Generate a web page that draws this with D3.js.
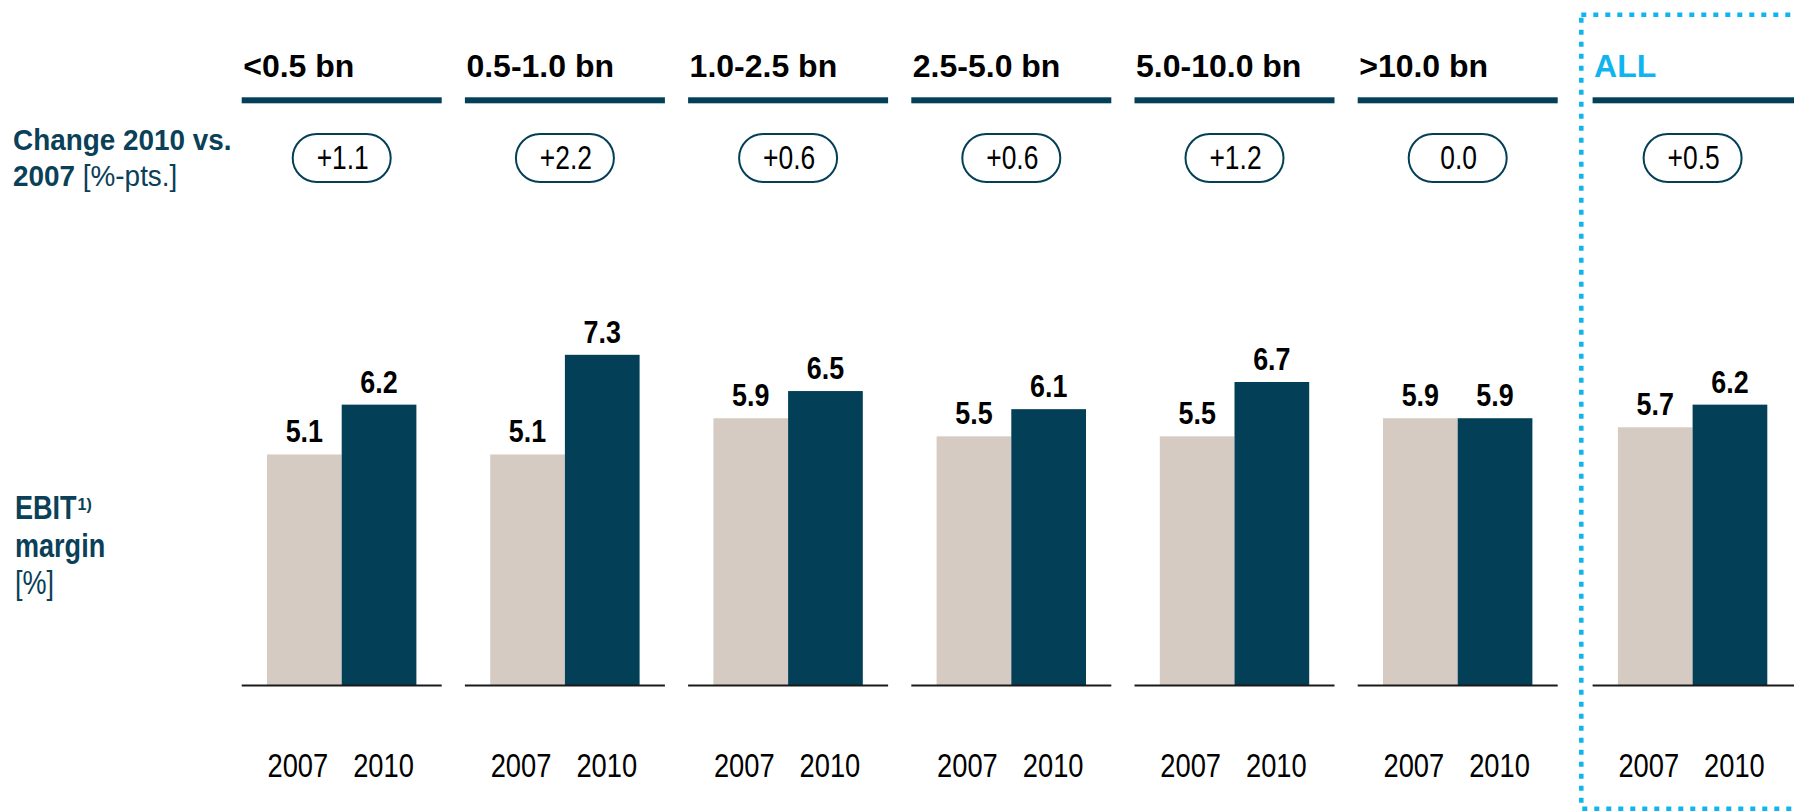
<!DOCTYPE html>
<html>
<head>
<meta charset="utf-8">
<script src="https://cdn.jsdelivr.net/npm/d3@7"></script>
<style>
    body { margin: 0; background: #fff; }
    svg { display: block; }
    text { font-family: "Liberation Sans", Arial, sans-serif; }
</style>
</head>
<body>
<svg id="chart" width="1794" height="811"></svg>
<script>
// Data
const categories = ["<0.5 bn", "0.5-1.0 bn", "1.0-2.5 bn", "2.5-5.0 bn", "5.0-10.0 bn", ">10.0 bn", "ALL"];
const years = ["2007", "2010"];
const margin2007 = [5.1, 5.1, 5.9, 5.5, 5.5, 5.9, 5.7];
const margin2010 = [6.2, 7.3, 6.5, 6.1, 6.7, 5.9, 6.2];
const changes = ["+1.1", "+2.2", "+0.6", "+0.6", "+1.2", "0.0", "+0.5"];

// Colours
const DARK = "#033f57";
const BEIGE = "#d5cbc2";
const CYAN = "#10b5ef";
const LABEL = "#0a4058";

const svg = d3.select("#chart");

// no narrow face installed, so squeeze Liberation Sans horizontally
function place(sel, fx, fy, sx) {
    const f = v => (typeof v === "function" ? v : () => v);
    const gxF = f(fx), gyF = f(fy);
    return sel.attr("transform", (d, i) => `translate(${gxF(d, i)},${gyF(d, i)}) scale(${sx},1)`);
}

// Scales
const x0 = d3.scaleBand()
    .domain(categories)
    .range([241.7, 241.7 + 223.2 * 6 + 200])
    .paddingInner(23.2 / 223.2);
const allShift = 11.7; // the ALL group sits a bit further right
const gx = c => x0(c) + (c === "ALL" ? allShift : 0);
const bw = x0.bandwidth();

const x1 = d3.scaleBand()
    .domain(years)
    .range([25.3, bw - 25.3]);

const y = d3.scaleLinear()
    .domain([0, 8])
    .range([685.5, 685.5 - 8 * 45.3]);

const rows = categories.map((c, i) => ({
    cat: c,
    change: changes[i],
    vals: [
        { year: "2007", v: margin2007[i] },
        { year: "2010", v: margin2010[i] }
    ]
}));

// Dashed box round ALL
svg.append("rect")
    .attr("x", 1581.3)
    .attr("y", 14.7)
    .attr("width", 260)
    .attr("height", 794)
    .attr("fill", "none")
    .attr("stroke", CYAN)
    .attr("stroke-width", 4.5)
    .attr("stroke-dasharray", "5 7");

const groups = svg.append("g")
    .selectAll("g")
    .data(rows)
    .enter()
    .append("g")
    .attr("transform", d => `translate(${gx(d.cat)},0)`);

// Header text + rule
place(groups.append("text"), 1.5, 77, 1)
    .attr("font-size", 32)
    .attr("font-weight", "bold")
    .attr("fill", d => d.cat === "ALL" ? CYAN : "#000")
    .text(d => d.cat);

groups.append("rect")
    .attr("x", 0)
    .attr("y", 97.3)
    .attr("width", d => d.cat === "ALL" ? 1794 - gx(d.cat) : bw)
    .attr("height", 6)
    .attr("fill", DARK);

// Change badges
groups.append("rect")
    .attr("x", bw / 2 - 49)
    .attr("y", 134)
    .attr("width", 98)
    .attr("height", 48)
    .attr("rx", 24)
    .attr("fill", "#fff")
    .attr("stroke", DARK)
    .attr("stroke-width", 2);

place(groups.append("text"), bw / 2 + 1, 169, 0.8)
    .attr("text-anchor", "middle")
    .attr("font-size", 33)
    .attr("fill", "#000")
    .text(d => d.change);

// Bars
groups.selectAll("rect.bar")
    .data(d => d.vals)
    .enter()
    .append("rect")
    .attr("class", "bar")
    .attr("x", d => x1(d.year))
    .attr("y", d => y(d.v))
    .attr("width", x1.bandwidth())
    .attr("height", d => y(0) - y(d.v))
    .attr("fill", d => d.year === "2007" ? BEIGE : DARK);

// Value labels
place(groups.selectAll("text.val")
    .data(d => d.vals)
    .enter()
    .append("text")
    .attr("class", "val"),
    d => x1(d.year) + x1.bandwidth() / 2, d => y(d.v) - 12, 0.84)
    .attr("text-anchor", "middle")
    .attr("font-size", 32)
    .attr("font-weight", "bold")
    .attr("fill", "#000")
    .text(d => d.v.toFixed(1));

// Baseline
groups.append("line")
    .attr("x1", 0)
    .attr("x2", d => d.cat === "ALL" ? 1794 - gx(d.cat) : bw)
    .attr("y1", y(0))
    .attr("y2", y(0))
    .attr("stroke", "#1a1a1a")
    .attr("stroke-width", 2.2);

// Year labels
place(groups.selectAll("text.year")
    .data(years)
    .enter()
    .append("text")
    .attr("class", "year"),
    d => x1(d) + x1.bandwidth() / 2 + (d === "2007" ? -6.5 : 4.5), 776.5, 0.84)
    .attr("text-anchor", "middle")
    .attr("font-size", 32.5)
    .attr("fill", "#000")
    .text(d => d);

// Row labels on the left
const changeLabel = place(svg.append("text"), 13, 149.5, 0.93)
    .attr("font-size", 30)
    .attr("fill", LABEL);
changeLabel.append("tspan").attr("font-weight", "bold").text("Change 2010 vs.");
const changeLabel2 = place(svg.append("text"), 13, 186, 0.93)
    .attr("font-size", 30)
    .attr("fill", LABEL);
changeLabel2.append("tspan").attr("font-weight", "bold").text("2007");
changeLabel2.append("tspan").text(" [%-pts.]");

place(svg.append("text"), 15, 518.5, 0.82)
    .attr("font-size", 33)
    .attr("font-weight", "bold")
    .attr("fill", LABEL)
    .text("EBIT");

svg.append("text")
    .attr("x", 77.5)
    .attr("y", 510)
    .attr("font-size", 16)
    .attr("font-weight", "bold")
    .attr("fill", LABEL)
    .text("1)");

place(svg.append("text"), 15, 556.5, 0.82)
    .attr("font-size", 33)
    .attr("font-weight", "bold")
    .attr("fill", LABEL)
    .text("margin");

place(svg.append("text"), 15, 594, 0.82)
    .attr("font-size", 33)
    .attr("fill", LABEL)
    .text("[%]");
</script>
</body>
</html>
